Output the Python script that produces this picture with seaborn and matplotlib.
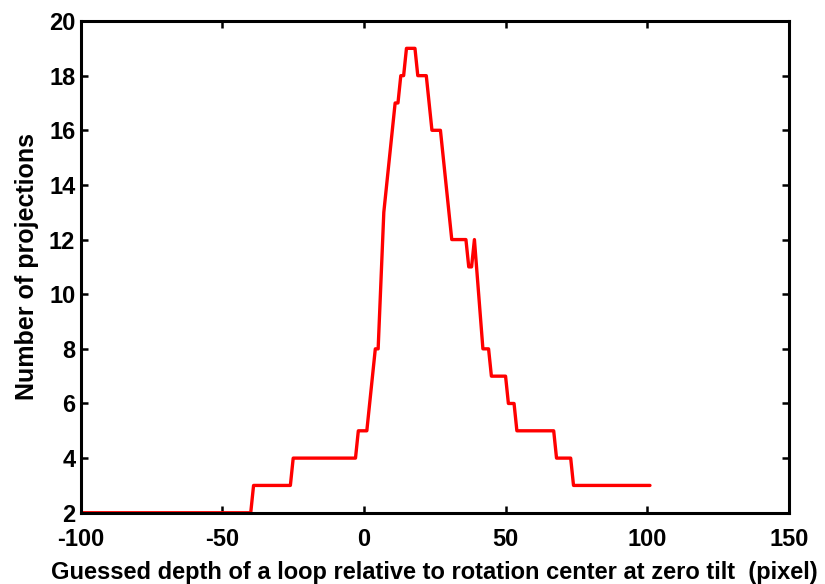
import matplotlib
matplotlib.use("Agg")
import matplotlib.pyplot as plt
import seaborn as sns
import pandas as pd

depth = [-100, -40, -39, -26, -25, -3, -2, 1, 4, 5, 7, 11, 12, 13, 14, 15, 18, 19, 22,
         24, 27, 31, 36, 37, 38, 39, 40.5, 42, 44, 45, 50, 51, 53, 54, 67, 68, 73, 74, 101]
projections = [2, 2, 3, 3, 4, 4, 5, 5, 8, 8, 13, 17, 17, 18, 18, 19, 19, 18, 18,
               16, 16, 12, 12, 11, 11, 12, 10, 8, 8, 7, 7, 6, 6, 5, 5, 4, 4, 3, 3]
xticks = [-100, -50, 0, 50, 100, 150]
yticks = [2, 4, 6, 8, 10, 12, 14, 16, 18, 20]

sns.set_style("ticks")
plt.rcParams['font.family'] = ['Liberation Sans', 'DejaVu Sans']
plt.rcParams['font.weight'] = 'bold'
plt.rcParams['axes.unicode_minus'] = False

df = pd.DataFrame({"depth": depth, "proj": projections})

fig = plt.figure(figsize=(8.25, 5.84), dpi=100)
ax = fig.add_axes([0.098, 0.122, 0.858, 0.842])
sns.lineplot(data=df, x="depth", y="proj", ax=ax, color="#ff0000", linewidth=2.4,
             sort=False, estimator=None)
ax.set_xlim(-100, 150)
ax.set_ylim(2, 20)
ax.set_xticks(xticks)
ax.set_yticks(yticks)
ax.tick_params(direction="in", top=True, right=True, length=5, width=1.8,
               labelsize=17, colors="black")
ax.tick_params(axis="x", pad=11)
ax.tick_params(axis="y", pad=4)
for lab in ax.get_xticklabels() + ax.get_yticklabels():
    lab.set_fontweight("bold")
for s in ax.spines.values():
    s.set_visible(True)
    s.set_linewidth(2.2)
    s.set_color("black")
ax.set_xlabel("Guessed depth of a loop relative to rotation center at zero tilt  (pixel)",
              fontsize=17, fontweight="bold", labelpad=7, color="black")
ax.set_ylabel("Number of projections", fontsize=18, fontweight="bold", labelpad=7,
              color="black")
fig.savefig("out.png", dpi=100)
